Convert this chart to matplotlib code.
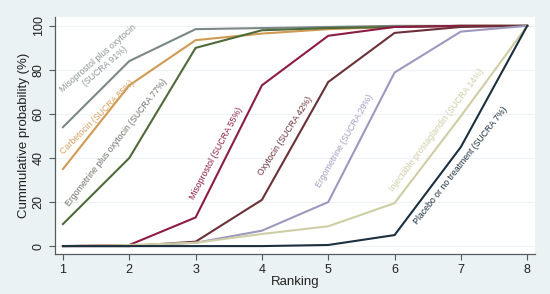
import matplotlib
matplotlib.use("Agg")
import matplotlib.pyplot as plt

ranks = [1, 2, 3, 4, 5, 6, 7, 8]

miso_oxy = [54, 84, 98.5, 99, 99.5, 100, 100, 100]
carbetocin = [35, 73, 93.5, 96.5, 98.5, 99.5, 100, 100]
ergo_oxy = [10, 40, 90, 98, 99, 99.5, 100, 100]
misoprostol = [0, 0.5, 13, 73, 95.5, 99.5, 100, 100]
oxytocin = [0, 0, 2, 21, 74.5, 96.8, 99.5, 100]
ergometrine = [0, 0, 1.5, 7, 20, 78.8, 97.4, 100]
inj_prosta = [0, 0.5, 1.5, 5.5, 9, 19.5, 59, 100]
placebo = [0, 0, 0, 0, 0.5, 5, 45, 100]

# (values, line colour, label, label colour, label x, label y, rotation)
series = [
    (miso_oxy, "#7b8886", "Misoprostol plus oxytocin\n(SUCRA 91%)", "#8a9694", 1.58, 83.5, 41),
    (carbetocin, "#d09a52", "Carbetocin (SUCRA 85%)", "#d4a060", 1.52, 58.6, 45),
    (ergo_oxy, "#4f6a3a", "Ergometrine plus oxytocin (SUCRA 77%)", "#6f7468", 1.81, 46.8, 52),
    (misoprostol, "#8c1c45", "Misoprostol (SUCRA 55%)", "#8c1c45", 3.31, 42.3, 62),
    (oxytocin, "#6b3038", "Oxytocin (SUCRA 42%)", "#6b3038", 4.36, 50, 57),
    (ergometrine, "#9d98be", "Ergometrine (SUCRA 29%)", "#a29dbf", 5.24, 48, 60),
    (inj_prosta, "#cfcda5", "Injectable prostaglandin (SUCRA 14%)", "#cfcda8", 6.64, 52.7, 53),
    (placebo, "#1c2f3e", "Placebo or no treatment (SUCRA 7%)", "#1c2f3e", 7.0, 36.4, 52),
]

bg = "#eaf2f3"
fig = plt.figure(figsize=(5.5, 2.94), dpi=100, facecolor=bg)
ax = fig.add_axes([0.1, 0.136, 0.873, 0.806])
ax.set_facecolor("white")

for vals, col, lab, lcol, tx, ty, rot in series:
    ax.plot(ranks, vals, color=col, lw=1.5, solid_joinstyle="miter")
    ax.text(tx, ty, lab, color=lcol, fontsize=6.3, rotation=rot,
            ha="center", va="center", multialignment="center",
            family="Liberation Sans", rotation_mode="anchor")

ax.set_xlim(0.88, 8.12)
ax.set_ylim(-3.6, 104)
ax.set_xticks(ranks)
ax.set_yticks([0, 20, 40, 60, 80, 100])
ax.yaxis.grid(True, color="#eef2f4", lw=0.8)
ax.set_axisbelow(True)

for s in ["top", "right"]:
    ax.spines[s].set_visible(False)
for s in ["left", "bottom"]:
    ax.spines[s].set_color("#555b60")
    ax.spines[s].set_linewidth(0.9)

ax.tick_params(colors="#555b60", labelcolor="#222222", length=4, width=0.8,
               labelsize=9)
for t in ax.get_xticklabels() + ax.get_yticklabels():
    t.set_family("Liberation Sans")
plt.setp(ax.get_yticklabels(), rotation=90, va="center")

ax.set_xlabel("Ranking", fontsize=9.5, family="Liberation Sans", color="#222222",
              labelpad=0)
ax.set_ylabel("Cummulative probability (%)", fontsize=9.5, family="Liberation Sans",
              color="#222222", labelpad=2)

fig.savefig("out.png", dpi=100, facecolor=bg)
